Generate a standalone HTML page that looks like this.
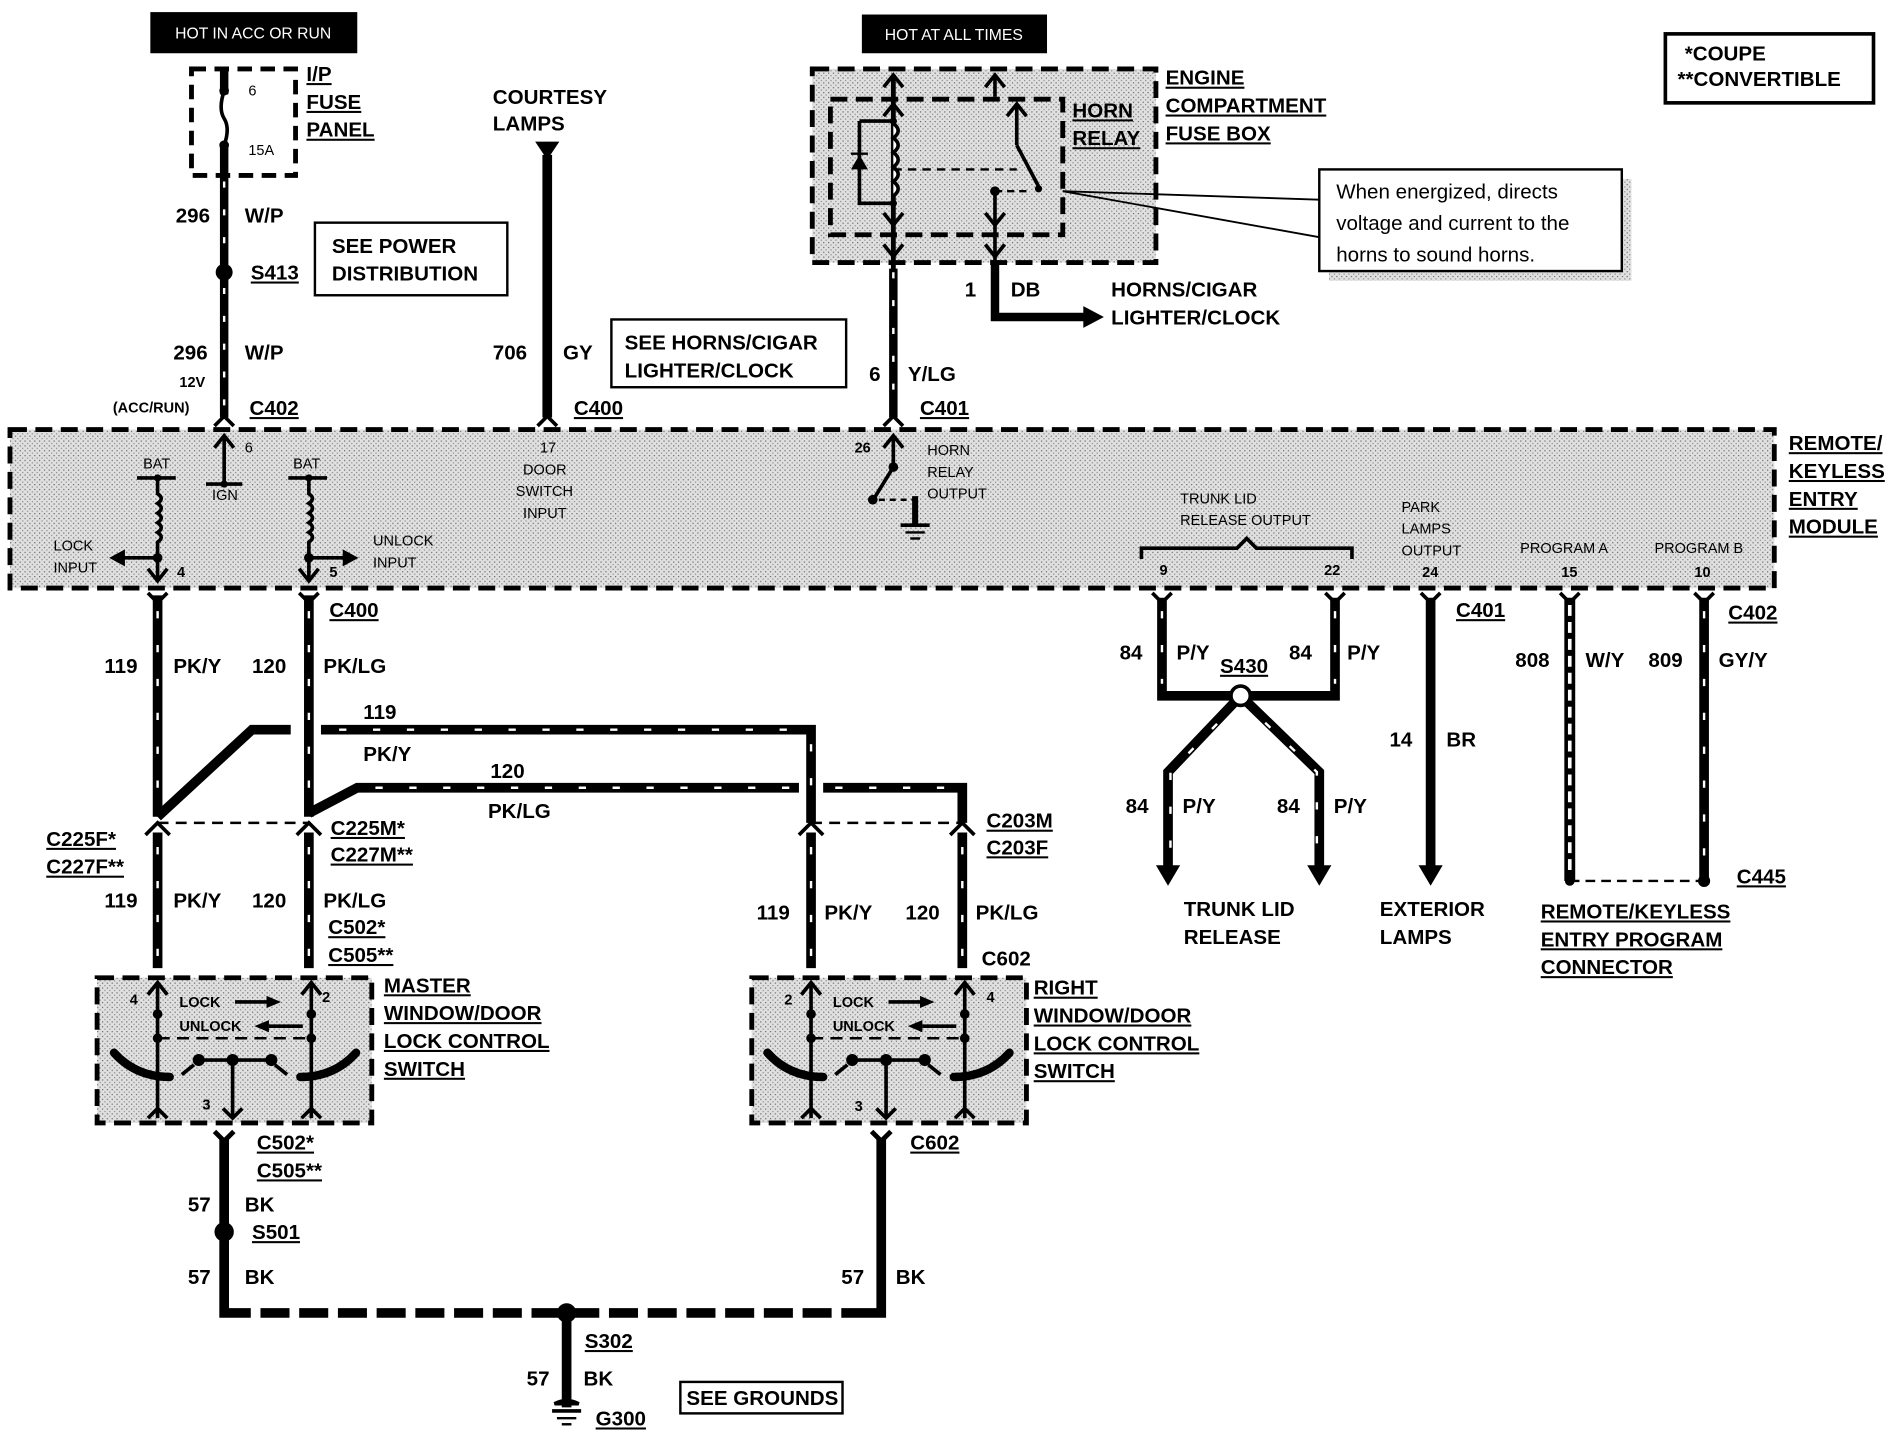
<!DOCTYPE html>
<html><head><meta charset="utf-8"><style>
html,body{margin:0;padding:0;background:#fff}
svg{display:block}
text{font-family:"Liberation Sans",Arial,sans-serif;font-weight:bold;fill:#000}
.l{font-size:17px}
.s{font-size:12px;font-weight:normal}
.u{text-decoration:underline}
</style></head><body>
<svg width="1898" height="1440" viewBox="0 0 1568 1190" xmlns="http://www.w3.org/2000/svg">
<defs>
<pattern id="st" width="4" height="4" patternUnits="userSpaceOnUse"><rect width="4" height="4" fill="#e0e0e0"/><rect x="0" y="0" width="1" height="1" fill="#666"/><rect x="2" y="2" width="1" height="1" fill="#888"/></pattern>
<g id="sw">
  <line x1="48" y1="4" x2="48" y2="116" stroke="#000" stroke-width="3"/>
  <line x1="175" y1="4" x2="175" y2="116" stroke="#000" stroke-width="3"/>
  <path d="M40,14 L48,4 L56,14 M40,116 L48,108 L56,116 M167,14 L175,4 L183,14 M167,116 L175,108 L183,116" stroke="#000" stroke-width="3" fill="none"/>
  <circle cx="48" cy="30" r="4"/><circle cx="48" cy="50" r="4"/><circle cx="175" cy="30" r="4"/><circle cx="175" cy="50" r="4"/>
  <line x1="48" y1="50" x2="175" y2="50" stroke="#000" stroke-width="2" stroke-dasharray="10 6"/>
  <path d="M12,62 Q30,82 58,82" stroke="#000" stroke-width="7" fill="none" stroke-linecap="round"/>
  <path d="M212,62 Q194,82 166,82" stroke="#000" stroke-width="7" fill="none" stroke-linecap="round"/>
  <line x1="68" y1="80" x2="78" y2="72" stroke="#000" stroke-width="3"/>
  <line x1="155" y1="80" x2="145" y2="72" stroke="#000" stroke-width="3"/>
  <line x1="82" y1="68" x2="142" y2="68" stroke="#000" stroke-width="3"/>
  <circle cx="82" cy="68" r="5"/><circle cx="110" cy="68" r="5"/><circle cx="142" cy="68" r="5"/>
  <line x1="110" y1="68" x2="110" y2="116" stroke="#000" stroke-width="3"/>
  <path d="M102,108 L110,116 L118,108" stroke="#000" stroke-width="3" fill="none"/>
  <text x="66" y="24" class="s" style="font-weight:bold">LOCK</text>
  <text x="66" y="44" class="s" style="font-weight:bold">UNLOCK</text>
  <line x1="112" y1="20" x2="140" y2="20" stroke="#000" stroke-width="3"/><path d="M138,15 L150,20 L138,25Z"/>
  <line x1="140" y1="40" x2="168" y2="40" stroke="#000" stroke-width="3"/><path d="M140,35 L128,40 L140,45Z"/>
</g>
</defs>

<rect x="124" y="10" width="171" height="34" fill="#000"/>
<text x="209" y="32" style="fill:#fff;font-weight:normal;font-size:13px" text-anchor="middle">HOT IN ACC OR RUN</text>
<rect x="712" y="12" width="153" height="32" fill="#000"/>
<text x="788" y="33" style="fill:#fff;font-weight:normal;font-size:13px" text-anchor="middle">HOT AT ALL TIMES</text>
<rect x="1376" y="28" width="172" height="57" fill="#fff" stroke="#000" stroke-width="3"/>
<text x="1392" y="50" class="l">*COUPE</text><text x="1386" y="71" class="l">**CONVERTIBLE</text>

<rect x="158" y="57" width="86" height="88" fill="none" stroke="#000" stroke-width="4" stroke-dasharray="12 7"/>
<line x1="185" y1="57" x2="185" y2="345" stroke="#000" stroke-width="7"/>
<rect x="180" y="78" width="10" height="42" fill="#fff"/>
<path d="M185,75 Q180,90 185,98 Q190,106 185,120" stroke="#000" stroke-width="3" fill="none"/>
<circle cx="185" cy="75" r="4"/><circle cx="185" cy="120" r="4"/>
<line x1="185" y1="150" x2="185" y2="215" stroke="#fff" stroke-width="2" stroke-dasharray="5 18"/>
<line x1="185" y1="238" x2="185" y2="335" stroke="#fff" stroke-width="2" stroke-dasharray="5 18"/>
<text x="205" y="79" class="s">6</text><text x="205" y="128" class="s">15A</text>
<text x="253" y="67" class="l u">I/P</text><text x="253" y="90" class="l u">FUSE</text><text x="253" y="113" class="l u">PANEL</text>
<text x="145" y="184" class="l">296</text><text x="202" y="184" class="l">W/P</text>
<circle cx="185" cy="225" r="7"/><text x="207" y="231" class="l u">S413</text>
<rect x="260" y="184" width="159" height="60" fill="#fff" stroke="#000" stroke-width="2"/>
<text x="274" y="209" class="l">SEE POWER</text><text x="274" y="232" class="l">DISTRIBUTION</text>
<text x="143" y="297" class="l">296</text><text x="202" y="297" class="l">W/P</text>
<text x="148" y="320" class="s" style="font-weight:bold">12V</text><text x="93" y="341" class="s" style="font-weight:bold">(ACC/RUN)</text>
<text x="206" y="343" class="l u">C402</text>

<text x="407" y="86" class="l">COURTESY</text><text x="407" y="108" class="l">LAMPS</text>
<path d="M442,117 L462,117 L452,132Z"/>
<line x1="452" y1="128" x2="452" y2="345" stroke="#000" stroke-width="8"/>
<text x="407" y="297" class="l">706</text><text x="465" y="297" class="l">GY</text>
<text x="474" y="343" class="l u">C400</text>
<rect x="505" y="264" width="194" height="56" fill="#fff" stroke="#000" stroke-width="2"/>
<text x="516" y="289" class="l">SEE HORNS/CIGAR</text><text x="516" y="312" class="l">LIGHTER/CLOCK</text>

<rect x="671" y="57" width="284" height="160" fill="url(#st)" stroke="#000" stroke-width="4" stroke-dasharray="14 7"/>
<rect x="686" y="82" width="192" height="112" fill="none" stroke="#000" stroke-width="4" stroke-dasharray="14 7"/>
<line x1="738" y1="62" x2="738" y2="345" stroke="#000" stroke-width="4"/>
<line x1="822" y1="62" x2="822" y2="80" stroke="#000" stroke-width="3"/>
<path d="M730,72 L738,62 L746,72 M814,72 L822,62 L830,72 M730,96 L738,86 L746,96 M832,96 L840,86 L848,96" stroke="#000" stroke-width="3" fill="none"/>
<path d="M710,100 L738,100 M710,100 L710,168 L738,168" stroke="#000" stroke-width="3" fill="none"/>
<path d="M703,140 L717,140 L710,128Z"/><line x1="703" y1="127" x2="717" y2="127" stroke="#000" stroke-width="2"/>
<path d="M738,102 q8,6 0,12 q8,6 0,12 q8,6 0,12 q8,6 0,12 q8,6 0,12" stroke="#000" stroke-width="3" fill="#fff"/>
<line x1="738" y1="140" x2="840" y2="140" stroke="#000" stroke-width="2" stroke-dasharray="7 5"/>
<circle cx="738" cy="100" r="3"/><circle cx="738" cy="168" r="3"/>
<line x1="840" y1="86" x2="840" y2="120" stroke="#000" stroke-width="3"/>
<line x1="840" y1="120" x2="858" y2="154" stroke="#000" stroke-width="3"/><circle cx="858" cy="156" r="3"/>
<circle cx="822" cy="158" r="4"/><line x1="822" y1="158" x2="822" y2="262" stroke="#000" stroke-width="3"/>
<line x1="822" y1="158" x2="850" y2="158" stroke="#000" stroke-width="2" stroke-dasharray="6 4"/>
<path d="M730,176 L738,186 L746,176 M814,176 L822,186 L830,176 M730,202 L738,212 L746,202 M814,202 L822,212 L830,202" stroke="#000" stroke-width="3" fill="none"/>
<text x="886" y="97" class="l u">HORN</text><text x="886" y="120" class="l u">RELAY</text>
<text x="963" y="70" class="l u">ENGINE</text><text x="963" y="93" class="l u">COMPARTMENT</text><text x="963" y="116" class="l u">FUSE BOX</text>
<line x1="738" y1="222" x2="738" y2="345" stroke="#000" stroke-width="7"/>
<line x1="738" y1="225" x2="738" y2="335" stroke="#fff" stroke-width="2" stroke-dasharray="5 18"/>
<path d="M822,215 L822,262 L900,262" stroke="#000" stroke-width="7" fill="none"/><path d="M895,253 L912,262 L895,271Z"/>
<text x="797" y="245" class="l">1</text><text x="835" y="245" class="l">DB</text>
<text x="918" y="245" class="l">HORNS/CIGAR</text><text x="918" y="268" class="l">LIGHTER/CLOCK</text>
<text x="718" y="315" class="l">6</text><text x="750" y="315" class="l">Y/LG</text><text x="760" y="343" class="l u">C401</text>
<rect x="1098" y="148" width="250" height="84" fill="url(#st)"/>
<rect x="1090" y="140" width="250" height="84" fill="#fff" stroke="#000" stroke-width="2"/>
<line x1="878" y1="158" x2="1090" y2="165" stroke="#000" stroke-width="1.5"/>
<line x1="878" y1="158" x2="1090" y2="196" stroke="#000" stroke-width="1.5"/>
<text x="1104" y="164" class="l" style="font-weight:normal">When energized, directs</text>
<text x="1104" y="190" class="l" style="font-weight:normal">voltage and current to the</text>
<text x="1104" y="216" class="l" style="font-weight:normal">horns to sound horns.</text>

<rect x="8" y="355" width="1458" height="131" fill="url(#st)" stroke="#000" stroke-width="4" stroke-dasharray="14 7"/>
<path d="M177,352 L185,344 L193,352 M444,352 L452,344 L460,352 M730,352 L738,344 L746,352" stroke="#000" stroke-width="3" fill="none"/>
<text x="1478" y="372" class="l u">REMOTE/</text><text x="1478" y="395" class="l u">KEYLESS</text><text x="1478" y="418" class="l u">ENTRY</text><text x="1478" y="441" class="l u">MODULE</text>
<line x1="185" y1="360" x2="185" y2="400" stroke="#000" stroke-width="3"/><path d="M177,370 L185,360 L193,370" stroke="#000" stroke-width="3" fill="none"/>
<line x1="170" y1="400" x2="200" y2="400" stroke="#000" stroke-width="3"/><circle cx="185" cy="400" r="3"/>
<text x="202" y="374" class="s">6</text><text x="175" y="413" class="s">IGN</text>
<text x="118" y="387" class="s">BAT</text><text x="242" y="387" class="s">BAT</text>
<line x1="113" y1="395" x2="145" y2="395" stroke="#000" stroke-width="3"/><line x1="238" y1="395" x2="270" y2="395" stroke="#000" stroke-width="3"/>
<path d="M130,395 L130,408 q6,4 0,8 q6,4 0,8 q6,4 0,8 q6,4 0,8 q6,4 0,8 L130,480" stroke="#000" stroke-width="3" fill="none"/>
<path d="M255,395 L255,408 q6,4 0,8 q6,4 0,8 q6,4 0,8 q6,4 0,8 q6,4 0,8 L255,480" stroke="#000" stroke-width="3" fill="none"/>
<circle cx="130" cy="395" r="3"/><circle cx="255" cy="395" r="3"/><circle cx="130" cy="461" r="4"/><circle cx="255" cy="461" r="4"/>
<path d="M122,470 L130,480 L138,470 M247,470 L255,480 L263,470" stroke="#000" stroke-width="3" fill="none"/>
<line x1="100" y1="461" x2="130" y2="461" stroke="#000" stroke-width="3"/><path d="M103,454 L90,461 L103,468Z"/>
<line x1="255" y1="461" x2="285" y2="461" stroke="#000" stroke-width="3"/><path d="M283,454 L296,461 L283,468Z"/>
<text x="44" y="455" class="s">LOCK</text><text x="44" y="473" class="s">INPUT</text>
<text x="146" y="477" class="s" style="font-weight:bold">4</text><text x="272" y="477" class="s" style="font-weight:bold">5</text>
<text x="308" y="451" class="s">UNLOCK</text><text x="308" y="469" class="s">INPUT</text>
<text x="446" y="374" class="s">17</text><text x="432" y="392" class="s">DOOR</text><text x="426" y="410" class="s">SWITCH</text><text x="432" y="428" class="s">INPUT</text>
<text x="706" y="374" class="s" style="font-weight:bold">26</text>
<line x1="738" y1="360" x2="738" y2="386" stroke="#000" stroke-width="3"/><path d="M730,370 L738,360 L746,370" stroke="#000" stroke-width="3" fill="none"/>
<circle cx="738" cy="386" r="4"/><line x1="738" y1="386" x2="722" y2="412" stroke="#000" stroke-width="3"/><circle cx="721" cy="413" r="4"/>
<line x1="726" y1="413" x2="756" y2="413" stroke="#000" stroke-width="2" stroke-dasharray="5 4"/>
<line x1="756" y1="410" x2="756" y2="434" stroke="#000" stroke-width="5"/>
<line x1="744" y1="434" x2="768" y2="434" stroke="#000" stroke-width="3"/><line x1="748" y1="440" x2="764" y2="440" stroke="#000" stroke-width="2"/><line x1="752" y1="445" x2="760" y2="445" stroke="#000" stroke-width="2"/>
<text x="766" y="376" class="s">HORN</text><text x="766" y="394" class="s">RELAY</text><text x="766" y="412" class="s">OUTPUT</text>
<text x="975" y="416" class="s">TRUNK LID</text><text x="975" y="434" class="s">RELEASE OUTPUT</text>
<path d="M943,462 L943,453 L1022,453 L1030,445 L1038,453 L1117,453 L1117,462" stroke="#000" stroke-width="3" fill="none"/>
<text x="958" y="475" class="s" style="font-weight:bold">9</text><text x="1094" y="475" class="s" style="font-weight:bold">22</text>
<text x="1158" y="423" class="s">PARK</text><text x="1158" y="441" class="s">LAMPS</text><text x="1158" y="459" class="s">OUTPUT</text><text x="1175" y="477" class="s" style="font-weight:bold">24</text>
<text x="1256" y="457" class="s">PROGRAM A</text><text x="1290" y="477" class="s" style="font-weight:bold">15</text>
<text x="1367" y="457" class="s">PROGRAM B</text><text x="1400" y="477" class="s" style="font-weight:bold">10</text>

<g stroke="#000" stroke-width="3" fill="none">
<path d="M122,490 L130,498 L138,490 M247,490 L255,498 L263,490 M952,490 L960,498 L968,490 M1095,490 L1103,498 L1111,490 M1174,490 L1182,498 L1190,490 M1289,490 L1297,498 L1305,490 M1400,490 L1408,498 L1416,490"/>
</g>
<g stroke="#000" stroke-width="8" fill="none">
<line x1="130" y1="492" x2="130" y2="675"/><line x1="255" y1="492" x2="255" y2="675"/>
<path d="M130,675 L208,603 L240,603"/>
<path d="M265,603 L670,603 L670,680"/>
<path d="M255,672 L295,651 L660,651"/>
<path d="M680,651 L795,651 L795,680"/>
<line x1="130" y1="688" x2="130" y2="800"/><line x1="255" y1="688" x2="255" y2="800"/>
<line x1="670" y1="688" x2="670" y2="800"/><line x1="795" y1="688" x2="795" y2="800"/>
</g>
<g stroke="#fff" stroke-width="2" stroke-dasharray="6 22" fill="none">
<line x1="130" y1="505" x2="130" y2="660"/><line x1="255" y1="505" x2="255" y2="660"/>
<line x1="280" y1="603" x2="660" y2="603"/><line x1="310" y1="651" x2="655" y2="651"/><line x1="690" y1="651" x2="785" y2="651"/>
<line x1="670" y1="615" x2="670" y2="670"/>
<line x1="130" y1="700" x2="130" y2="795"/><line x1="255" y1="700" x2="255" y2="795"/><line x1="670" y1="700" x2="670" y2="795"/><line x1="795" y1="700" x2="795" y2="795"/>
</g>
<line x1="130" y1="680" x2="255" y2="680" stroke="#000" stroke-width="2" stroke-dasharray="9 6"/>
<line x1="670" y1="680" x2="795" y2="680" stroke="#000" stroke-width="2" stroke-dasharray="9 6"/>
<g stroke="#000" stroke-width="3" fill="none">
<path d="M120,690 L130,680 L140,690 M245,690 L255,680 L265,690 M660,690 L670,680 L680,690 M785,690 L795,680 L805,690"/>
</g>
<text x="86" y="556" class="l">119</text><text x="143" y="556" class="l">PK/Y</text><text x="208" y="556" class="l">120</text><text x="267" y="556" class="l">PK/LG</text>
<text x="272" y="510" class="l u">C400</text>
<text x="300" y="594" class="l">119</text><text x="300" y="629" class="l">PK/Y</text>
<text x="405" y="643" class="l">120</text><text x="403" y="676" class="l">PK/LG</text>
<text x="38" y="699" class="l u">C225F*</text><text x="38" y="722" class="l u">C227F**</text>
<text x="273" y="690" class="l u">C225M*</text><text x="273" y="712" class="l u">C227M**</text>
<text x="815" y="684" class="l u">C203M</text><text x="815" y="706" class="l u">C203F</text>
<text x="86" y="750" class="l">119</text><text x="143" y="750" class="l">PK/Y</text><text x="208" y="750" class="l">120</text><text x="267" y="750" class="l">PK/LG</text>
<text x="271" y="772" class="l u">C502*</text><text x="271" y="795" class="l u">C505**</text>
<text x="625" y="760" class="l">119</text><text x="681" y="760" class="l">PK/Y</text><text x="748" y="760" class="l">120</text><text x="806" y="760" class="l">PK/LG</text>
<text x="811" y="798" class="l">C602</text>

<rect x="80" y="808" width="227" height="120" fill="url(#st)" stroke="#000" stroke-width="4" stroke-dasharray="14 7"/>
<use href="#sw" x="82" y="808"/>
<text x="107" y="830" class="s" style="font-weight:bold">4</text><text x="266" y="828" class="s" style="font-weight:bold">2</text><text x="167" y="917" class="s" style="font-weight:bold">3</text>
<text x="317" y="820" class="l u">MASTER</text><text x="317" y="843" class="l u">WINDOW/DOOR</text><text x="317" y="866" class="l u">LOCK CONTROL</text><text x="317" y="889" class="l u">SWITCH</text>
<rect x="621" y="808" width="227" height="120" fill="url(#st)" stroke="#000" stroke-width="4" stroke-dasharray="14 7"/>
<use href="#sw" x="622" y="808"/>
<text x="648" y="830" class="s" style="font-weight:bold">2</text><text x="815" y="828" class="s" style="font-weight:bold">4</text><text x="706" y="918" class="s" style="font-weight:bold">3</text>
<text x="854" y="822" class="l u">RIGHT</text><text x="854" y="845" class="l u">WINDOW/DOOR</text><text x="854" y="868" class="l u">LOCK CONTROL</text><text x="854" y="891" class="l u">SWITCH</text>

<path d="M177,935 L185,943 L193,935 M720,935 L728,943 L736,935" stroke="#000" stroke-width="4" fill="none"/>
<path d="M185,940 L185,1085 L728,1085 L728,940" stroke="#000" stroke-width="8" fill="none"/>
<line x1="195" y1="1085" x2="718" y2="1085" stroke="#fff" stroke-width="9" stroke-dasharray="8 24" stroke-dashoffset="-12"/>
<text x="212" y="950" class="l u">C502*</text><text x="212" y="973" class="l u">C505**</text>
<text x="155" y="1001" class="l">57</text><text x="202" y="1001" class="l">BK</text>
<circle cx="185" cy="1018" r="8"/><text x="208" y="1024" class="l u">S501</text>
<text x="155" y="1061" class="l">57</text><text x="202" y="1061" class="l">BK</text>
<text x="752" y="950" class="l u">C602</text>
<text x="695" y="1061" class="l">57</text><text x="740" y="1061" class="l">BK</text>
<circle cx="468" cy="1085" r="8"/>
<line x1="468" y1="1085" x2="468" y2="1163" stroke="#000" stroke-width="8"/>
<path d="M458,1160 Q468,1155 478,1160 Z" stroke="#000" stroke-width="3"/>
<line x1="456" y1="1166" x2="480" y2="1166" stroke="#000" stroke-width="3"/><line x1="460" y1="1172" x2="476" y2="1172" stroke="#000" stroke-width="2"/><line x1="464" y1="1177" x2="472" y2="1177" stroke="#000" stroke-width="2"/>
<text x="483" y="1114" class="l u">S302</text>
<text x="435" y="1145" class="l">57</text><text x="482" y="1145" class="l">BK</text>
<text x="492" y="1178" class="l u">G300</text>
<rect x="562" y="1142" width="134" height="26" fill="#fff" stroke="#000" stroke-width="2"/>
<text x="567" y="1161" class="l">SEE GROUNDS</text>

<path d="M960,494 L960,575 L1103,575 L1103,494" stroke="#000" stroke-width="8" fill="none"/>
<line x1="960" y1="505" x2="960" y2="565" stroke="#fff" stroke-width="2" stroke-dasharray="6 22"/>
<line x1="1103" y1="505" x2="1103" y2="565" stroke="#fff" stroke-width="2" stroke-dasharray="6 22"/>
<path d="M1025,575 L965,638 L965,720 M1025,575 L1090,638 L1090,720" stroke="#000" stroke-width="8" fill="none"/>
<path d="M1025,578 L967,638 L967,715 M1025,578 L1088,638 L1088,715" stroke="#fff" stroke-width="2" stroke-dasharray="6 22" fill="none"/>
<path d="M955,715 L975,715 L965,732Z M1080,715 L1100,715 L1090,732Z"/>
<circle cx="1025" cy="575" r="8" fill="#fff" stroke="#000" stroke-width="3"/>
<text x="925" y="545" class="l">84</text><text x="972" y="545" class="l">P/Y</text><text x="1065" y="545" class="l">84</text><text x="1113" y="545" class="l">P/Y</text>
<text x="1008" y="556" class="l u">S430</text>
<text x="930" y="672" class="l">84</text><text x="977" y="672" class="l">P/Y</text><text x="1055" y="672" class="l">84</text><text x="1102" y="672" class="l">P/Y</text>
<text x="978" y="757" class="l">TRUNK LID</text><text x="978" y="780" class="l">RELEASE</text>
<line x1="1182" y1="494" x2="1182" y2="718" stroke="#000" stroke-width="8"/><path d="M1172,715 L1192,715 L1182,732Z"/>
<text x="1148" y="617" class="l">14</text><text x="1195" y="617" class="l">BR</text>
<text x="1203" y="510" class="l u">C401</text>
<text x="1140" y="757" class="l">EXTERIOR</text><text x="1140" y="780" class="l">LAMPS</text>
<line x1="1297" y1="494" x2="1297" y2="728" stroke="#000" stroke-width="9"/>
<line x1="1297" y1="500" x2="1297" y2="722" stroke="#fff" stroke-width="3" stroke-dasharray="9 5"/>
<line x1="1408" y1="494" x2="1408" y2="728" stroke="#000" stroke-width="8"/>
<line x1="1408" y1="505" x2="1408" y2="720" stroke="#fff" stroke-width="2" stroke-dasharray="6 22"/>
<line x1="1297" y1="728" x2="1408" y2="728" stroke="#000" stroke-width="2" stroke-dasharray="8 5"/>
<circle cx="1297" cy="728" r="4"/><circle cx="1408" cy="728" r="5"/>
<text x="1252" y="551" class="l">808</text><text x="1310" y="551" class="l">W/Y</text><text x="1362" y="551" class="l">809</text><text x="1420" y="551" class="l">GY/Y</text>
<text x="1428" y="512" class="l u">C402</text><text x="1435" y="730" class="l u">C445</text>
<text x="1273" y="759" class="l u">REMOTE/KEYLESS</text><text x="1273" y="782" class="l u">ENTRY  PROGRAM</text><text x="1273" y="805" class="l u">CONNECTOR</text>
</svg>
</body></html>
